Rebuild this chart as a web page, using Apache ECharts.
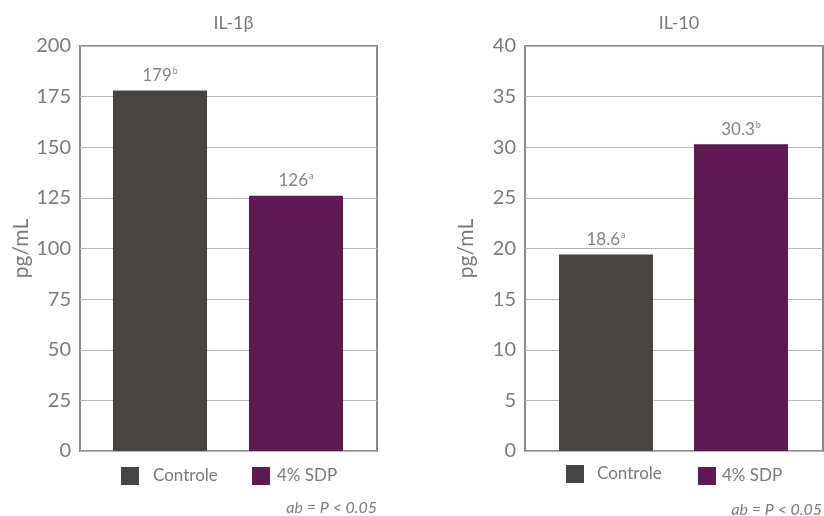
<!DOCTYPE html>
<html>
<head>
<meta charset="utf-8">
<script src="https://cdn.jsdelivr.net/npm/echarts@6/dist/echarts.min.js"></script>
<style>html,body{margin:0;padding:0;background:#fff}#c{width:824px;height:516px}</style>
</head>
<body>
<div id="c"></div>
<script>
const categories = ['Controle', '4% SDP'];
const chartTitles = ['IL-1β', 'IL-10'];
const il1bValues = [178, 126];
const il1bLabels = ['179', '126'];
const il1bLetters = ['b', 'a'];
const il10Values = [19.4, 30.3];
const il10Labels = ['18.6', '30.3'];
const il10Letters = ['a', 'b'];
const il1bAxis = { min: 0, max: 200, interval: 25 };
const il10Axis = { min: 0, max: 40, interval: 5 };
const yAxisName = 'pg/mL';
const noteText = 'ab = P < 0.05';

const colors = ['#464543', '#5d1a52'];
const FONT = 'Lato';
const GREY = '#7b7b7b';

const chart = echarts.init(document.getElementById('c'));

function frameY(idx, ax) {
  return {
    type: 'value', gridIndex: idx, min: ax.min, max: ax.max, interval: ax.interval,
    axisLine: { show: false }, axisTick: { show: false },
    splitLine: { show: true, lineStyle: { color: '#b8b8b8', width: 1 } },
    axisLabel: { fontSize: 20, color: GREY, fontFamily: FONT, margin: 9, padding: [4, 0, 0, 0] },
    name: yAxisName, nameLocation: 'middle', nameGap: 48,
    nameTextStyle: { fontSize: 21, color: GREY, fontFamily: FONT }
  };
}
function barY(idx, ax) {
  return {
    type: 'value', gridIndex: idx, min: ax.min, max: ax.max, interval: ax.interval,
    show: false, splitLine: { show: false }
  };
}
function hiddenX(idx) {
  return { type: 'category', gridIndex: idx, data: categories, show: false };
}
function makeSeries(xi, values, labels, letters) {
  return categories.map((name, ci) => ({
    type: 'bar', name: name, xAxisIndex: xi, yAxisIndex: xi,
    data: values.map((v, i) => (i === ci ? v : '-')),
    barWidth: 94, barGap: '-100%',
    itemStyle: { color: colors[ci] },
    label: {
      show: true, position: 'top', distance: 6,
      formatter: (p) => '{v|' + labels[p.dataIndex] + '}{s|' + letters[p.dataIndex] + '}',
      rich: {
        v: { fontSize: 17, color: '#858585', fontFamily: FONT, lineHeight: 18 },
        s: { fontSize: 9, color: '#858585', fontFamily: FONT, verticalAlign: 'top', lineHeight: 18, padding: [0, 0, 8, 1] }
      }
    }
  }));
}
function legendAt(name, left, top, gapPad) {
  return {
    data: [name], left: left, top: top, itemWidth: 18, itemHeight: 18, icon: 'rect',
    textStyle: { fontSize: 17, color: GREY, fontFamily: FONT, padding: [0, 0, 0, gapPad] },
    selectedMode: false
  };
}

const option = {
  animation: false,
  backgroundColor: '#fff',
  title: [
    { text: chartTitles[0], left: 228.5, textAlign: 'center', top: 9, textStyle: { fontSize: 18, fontWeight: 'normal', color: GREY, fontFamily: FONT } },
    { text: chartTitles[1], left: 674, textAlign: 'center', top: 9, textStyle: { fontSize: 18, fontWeight: 'normal', color: GREY, fontFamily: FONT } },
    { text: noteText, right: 442, top: 495, textStyle: { fontSize: 16, fontStyle: 'italic', fontWeight: 'normal', color: GREY, fontFamily: FONT } },
    { text: noteText, right: -3, top: 497, textStyle: { fontSize: 16, fontStyle: 'italic', fontWeight: 'normal', color: GREY, fontFamily: FONT } }
  ],
  legend: [
    legendAt(categories[0], 116, 462, 9),
    legendAt(categories[1], 247, 462, 2),
    legendAt(categories[0], 561, 460, 8),
    legendAt(categories[1], 693, 462, 1)
  ],
  grid: [
    { left: 80, top: 46, width: 297, height: 405, show: true, borderColor: '#8a8a8a', borderWidth: 2, backgroundColor: 'transparent' },
    { left: 92, top: 46, width: 272, height: 405 },
    { left: 525, top: 46, width: 298, height: 405, show: true, borderColor: '#8a8a8a', borderWidth: 2, backgroundColor: 'transparent' },
    { left: 538.5, top: 46, width: 270, height: 405 }
  ],
  xAxis: [hiddenX(0), hiddenX(1), hiddenX(2), hiddenX(3)],
  yAxis: [frameY(0, il1bAxis), barY(1, il1bAxis), frameY(2, il10Axis), barY(3, il10Axis)],
  series: [
    ...makeSeries(1, il1bValues, il1bLabels, il1bLetters),
    ...makeSeries(3, il10Values, il10Labels, il10Letters)
  ]
};
chart.setOption(option);
</script>
</body>
</html>
